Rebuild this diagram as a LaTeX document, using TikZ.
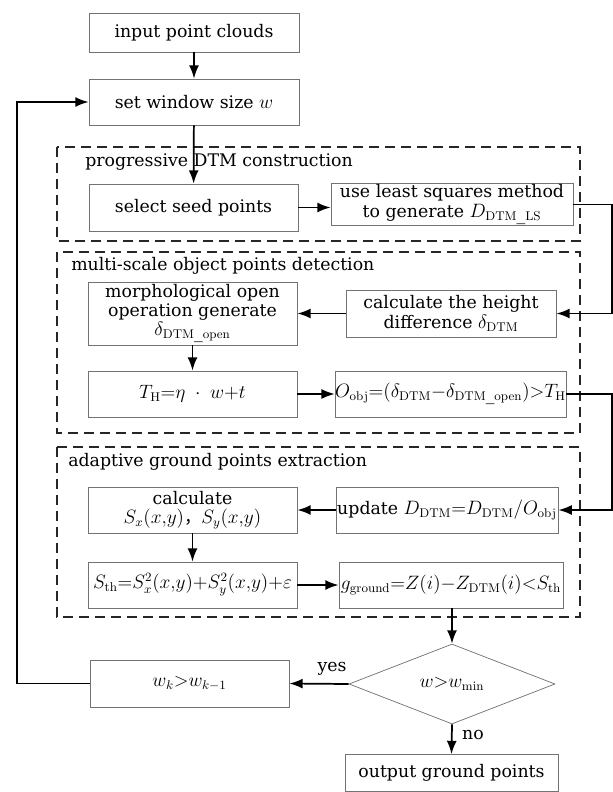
\RequirePackage{fix-cm}
\documentclass[tikz,border=0pt]{standalone}
\usepackage[no-math]{fontspec}
\setmainfont{DejaVu Serif}
\newfontfamily\cjkfont{Noto Sans CJK SC}
\usetikzlibrary{arrows.meta,shapes.geometric}
\DeclareMathSizes{13}{14.5}{9.5}{7}
\newcommand\fsz{\fontsize{13}{14.5}\selectfont}
\begin{document}
\begin{tikzpicture}[x=0.75pt,y=-0.75pt,
  sz/.style 2 args={minimum width=#1*0.75pt, minimum height=#2*0.75pt},
  box/.style={draw=black!55, line width=0.55pt, align=center, inner sep=1pt, font=\fsz},
  grp/.style={draw=black!85, line width=1.1pt, dash pattern=on 7.5pt off 4.5pt},
  ttl/.style={anchor=west, inner sep=0pt, font=\fsz},
  arr/.style={line width=1.3pt, -{Latex[length=10pt,width=7.5pt]}},
  lbl/.style={inner sep=0pt, font=\fsz}]
\useasboundingbox (0,0) rectangle (613,792);

% group frames
\draw[grp] (57,147) rectangle (580,241);
\draw[grp] (57,252) rectangle (580,433);
\draw[grp] (57,447) rectangle (580,617);
\node[ttl] (t1) at (85,162) {progressive DTM construction};
\node[ttl] (t2) at (71,266) {multi-scale object points detection};
\node[ttl] (t3) at (68,462) {adaptive ground points extraction};

% boxes
\node[box, sz={210}{39}] (input) at (194,32.5) {input point clouds};
\node[box, sz={210}{46}] (setw) at (194,102) {set window size $w$};
\node[box, sz={209}{47}] (seed) at (193.5,207.5) {select seed points};
\node[box, sz={242}{41}] (lsq) at (452,204.5) {use least squares method\\to generate $D_{\mathrm{DTM\_LS}}$};
\node[box, sz={209}{63}] (morph) at (192.5,313.5) {morphological open\\operation generate\\$\delta_{\mathrm{DTM\_open}}$};
\node[box, sz={210}{47}] (calch) at (451,313.5) {calculate the height\\difference $\delta_{\mathrm{DTM}}$};
\node[box, sz={209}{46}] (TH) at (192.5,394) {$T_{\mathrm{H}}{=}\eta\;\cdot\;w{+}t$};
\node[box, sz={229}{46}, inner sep=0pt] (Oobj) at (450.5,394) {$O_{\mathrm{obj}}{=}(\delta_{\mathrm{DTM}}{-}\delta_{\mathrm{DTM\_open}}){>}T_{\mathrm{H}}$};
\node[box, sz={209}{46}] (calc) at (192.5,510) {calculate\\$S_x(x{,}y)${\cjkfont ，}$S_y(x{,}y)$};
\node[box, sz={218}{46}] (upd) at (447,510) {update $D_{\mathrm{DTM}}{=}D_{\mathrm{DTM}}/O_{\mathrm{obj}}$};
\node[box, sz={209}{46}, inner sep=0pt] (Sth) at (192.5,585) {$S_{\mathrm{th}}{=}S_x^2(x{,}y){+}S_y^2(x{,}y){+}\varepsilon$};
\node[box, sz={224}{46}, inner sep=0pt] (gg) at (451,585) {$g_{\mathrm{ground}}{=}Z(i){-}Z_{\mathrm{DTM}}(i){<}S_{\mathrm{th}}$};
\node[box, shape=diamond, inner sep=0pt, sz={206}{80}] (dia) at (452,684) {$w{>}w_{\min}$};
\node[box, sz={199}{47}] (wk) at (189.5,683.5) {$w_k{>}w_{k-1}$};
\node[box, sz={213}{37}] (out) at (451.5,773) {output ground points};

% helper coordinates
\coordinate (lx) at (17,0);
\coordinate (rx) at (612,0);

% connectors
\draw[arr] (input) -- (setw);
\draw[arr] (setw) -- (seed);
\draw[arr] (seed.east) -- (seed.east -| lsq.west);
\draw[arr] (lsq.east) -- (lsq.east -| rx) -- (calch.east -| rx) -- (calch.east);
\draw[arr] (calch) -- (morph);
\draw[arr] (morph) -- (TH);
\draw[arr] (TH) -- (Oobj);
\draw[arr] (Oobj.east) -- (Oobj.east -| rx) -- (upd.east -| rx) -- (upd.east);
\draw[arr] (upd) -- (calc);
\draw[arr] (calc) -- (Sth);
\draw[arr] (Sth) -- (gg);
\draw[arr] (gg.south -| dia.north) -- (dia.north);
\draw[arr] (dia.west) -- (wk.east);
\draw[arr] (dia.south) -- (out.north);
\draw[arr] (wk.west) -- (wk.west -| lx) -- (setw.west -| lx) -- (setw.west);
\node[lbl] (yes) at (332,669) {yes};
\node[lbl] (no) at (473,735) {no};
\end{tikzpicture}
\end{document}
